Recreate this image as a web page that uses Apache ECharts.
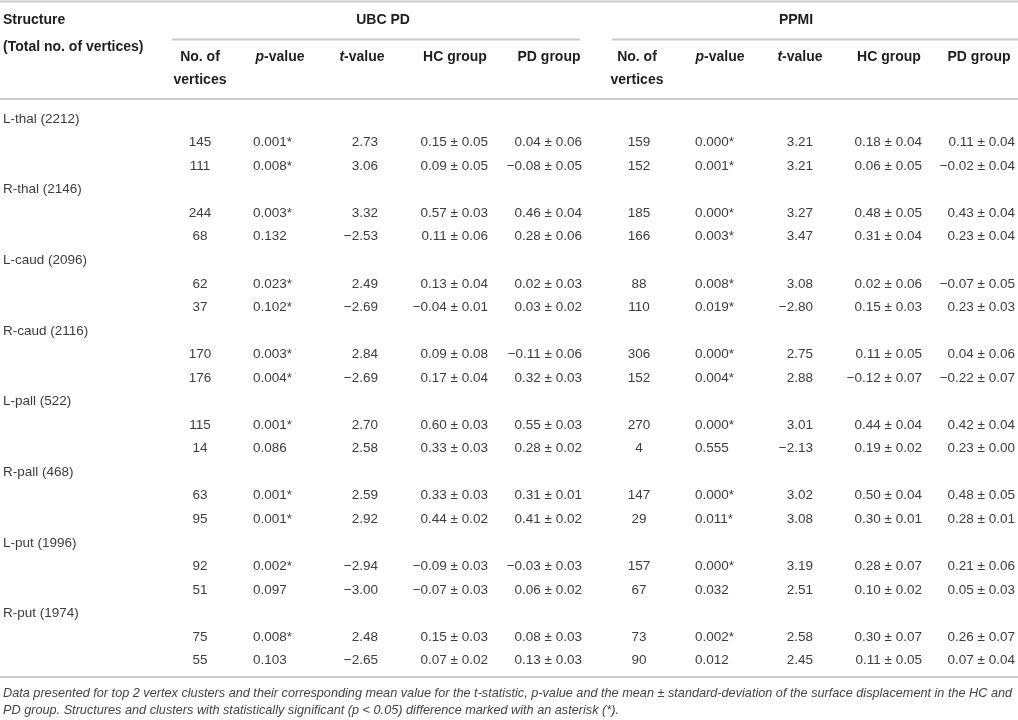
<!DOCTYPE html>
<html lang="en">
<head>
    <meta charset="UTF-8">
    <script src="https://cdn.jsdelivr.net/npm/echarts@6/dist/echarts.min.js"></script>
    <title>Vertex clusters table</title>
</head>
<body>
    <style>
        html, body, #main {
            margin: 0;
            width: 1018px;
            height: 720px;
            background: #fff;
        }
    </style>
    <div id="main"></div>
    <script>
        // table content
        var structures = ['L-thal (2212)', 'R-thal (2146)', 'L-caud (2096)', 'R-caud (2116)',
            'L-pall (522)', 'R-pall (468)', 'L-put (1996)', 'R-put (1974)'];

        var ubcVertices = [145, 111, 244, 68, 62, 37, 170, 176, 115, 14, 63, 95, 92, 51, 75, 55];
        var ubcP = [0.001, 0.008, 0.003, 0.132, 0.023, 0.102, 0.003, 0.004, 0.001, 0.086, 0.001, 0.001, 0.002, 0.097, 0.008, 0.103];
        var ubcMarked = [1, 1, 1, 0, 1, 1, 1, 1, 1, 0, 1, 1, 1, 0, 1, 0];
        var ubcT = [2.73, 3.06, 3.32, -2.53, 2.49, -2.69, 2.84, -2.69, 2.70, 2.58, 2.59, 2.92, -2.94, -3.00, 2.48, -2.65];
        var ubcHcMean = [0.15, 0.09, 0.57, 0.11, 0.13, -0.04, 0.09, 0.17, 0.60, 0.33, 0.33, 0.44, -0.09, -0.07, 0.15, 0.07];
        var ubcHcSd = [0.05, 0.05, 0.03, 0.06, 0.04, 0.01, 0.08, 0.04, 0.03, 0.03, 0.03, 0.02, 0.03, 0.03, 0.03, 0.02];
        var ubcPdMean = [0.04, -0.08, 0.46, 0.28, 0.02, 0.03, -0.11, 0.32, 0.55, 0.28, 0.31, 0.41, -0.03, 0.06, 0.08, 0.13];
        var ubcPdSd = [0.06, 0.05, 0.04, 0.06, 0.03, 0.02, 0.06, 0.03, 0.03, 0.02, 0.01, 0.02, 0.03, 0.02, 0.03, 0.03];

        var ppmiVertices = [159, 152, 185, 166, 88, 110, 306, 152, 270, 4, 147, 29, 157, 67, 73, 90];
        var ppmiP = [0.000, 0.001, 0.000, 0.003, 0.008, 0.019, 0.000, 0.004, 0.000, 0.555, 0.000, 0.011, 0.000, 0.032, 0.002, 0.012];
        var ppmiMarked = [1, 1, 1, 1, 1, 1, 1, 1, 1, 0, 1, 1, 1, 0, 1, 0];
        var ppmiT = [3.21, 3.21, 3.27, 3.47, 3.08, -2.80, 2.75, 2.88, 3.01, -2.13, 3.02, 3.08, 3.19, 2.51, 2.58, 2.45];
        var ppmiHcMean = [0.18, 0.06, 0.48, 0.31, 0.02, 0.15, 0.11, -0.12, 0.44, 0.19, 0.50, 0.30, 0.28, 0.10, 0.30, 0.11];
        var ppmiHcSd = [0.04, 0.05, 0.05, 0.04, 0.06, 0.03, 0.05, 0.07, 0.04, 0.02, 0.04, 0.01, 0.07, 0.02, 0.07, 0.05];
        var ppmiPdMean = [0.11, -0.02, 0.43, 0.23, -0.07, 0.23, 0.04, -0.22, 0.42, 0.23, 0.48, 0.28, 0.21, 0.05, 0.26, 0.07];
        var ppmiPdSd = [0.04, 0.04, 0.04, 0.04, 0.05, 0.03, 0.06, 0.07, 0.04, 0.00, 0.05, 0.01, 0.06, 0.03, 0.07, 0.04];

        var caption = [
            'Data presented for top 2 vertex clusters and their corresponding mean value for the t-statistic, p-value and the mean \u00b1 standard-deviation of the surface displacement in the HC and',
            'PD group. Structures and clusters with statistically significant (p < 0.05) difference marked with an asterisk (*).'
        ];

        // layout: column anchors on the x axis (axis runs in page pixels)
        var colX = {
            name: 3,
            ubc: [200, 253, 378, 488, 582],
            ppmi: [639, 695, 813, 922, 1015]
        };
        var colAlign = ['center', 'left', 'right', 'right', 'right'];

        var FONT = '"Liberation Sans", Arial, sans-serif';
        var TEXT = '#3d3d3d';
        var HEAD = '#1e1e1e';
        var RULE = '#cbcbcb';

        function num(v, d) {
            var s = Math.abs(v).toFixed(d);
            return (v < 0 ? '\u2212' : '') + s;
        }
        function pm(m, s) {
            return num(m, 2) + ' \u00b1 ' + num(s, 2);
        }

        // build cells
        var rows = [];
        var cells = [];
        structures.forEach(function (name, k) {
            var r = rows.length;
            rows.push(name);
            cells.push({ value: [colX.name, r], text: name, align: 'left' });
            for (var j = 0; j < 2; j++) {
                var i = k * 2 + j;
                var rr = rows.length;
                rows.push(name + ' ' + (j + 1));
                var ubc = [String(ubcVertices[i]), ubcP[i].toFixed(3) + (ubcMarked[i] ? '*' : ''),
                    num(ubcT[i], 2), pm(ubcHcMean[i], ubcHcSd[i]), pm(ubcPdMean[i], ubcPdSd[i])];
                var ppmi = [String(ppmiVertices[i]), ppmiP[i].toFixed(3) + (ppmiMarked[i] ? '*' : ''),
                    num(ppmiT[i], 2), pm(ppmiHcMean[i], ppmiHcSd[i]), pm(ppmiPdMean[i], ppmiPdSd[i])];
                for (var c = 0; c < 5; c++) {
                    cells.push({ value: [colX.ubc[c], rr], text: ubc[c], align: colAlign[c] });
                    cells.push({ value: [colX.ppmi[c], rr], text: ppmi[c], align: colAlign[c] });
                }
            }
        });

        // header texts
        function head(x, y, text, align) {
            return {
                type: 'text', x: x, y: y,
                style: {
                    text: text, fill: HEAD, align: align || 'center', verticalAlign: 'middle',
                    font: 'bold 14px ' + FONT,
                    rich: {
                        i: { fontStyle: 'italic', fontWeight: 'bold', fontSize: 14, fontFamily: FONT, fill: HEAD }
                    }
                }
            };
        }
        function rule(x1, x2, y) {
            return {
                type: 'line',
                shape: { x1: x1, y1: y, x2: x2, y2: y },
                style: { stroke: RULE, lineWidth: 2 }
            };
        }

        var headerX = {
            ubc: [200, 280, 362, 455, 549],
            ppmi: [637, 720, 800, 889, 979]
        };
        var graphics = [
            rule(0, 1018, 1.5),
            rule(172, 580, 39.5),
            rule(612, 1018, 39.5),
            rule(0, 1018, 99),
            rule(0, 1018, 677),
            head(3, 20, 'Structure', 'left'),
            head(3, 47, '(Total no. of vertices)', 'left'),
            head(383, 20, 'UBC PD'),
            head(796, 20, 'PPMI')
        ];
        ['ubc', 'ppmi'].forEach(function (g) {
            var hx = headerX[g];
            graphics.push(head(hx[0], 57, 'No. of'));
            graphics.push(head(hx[0], 80, 'vertices'));
            graphics.push(head(hx[1], 57, '{i|p}-value'));
            graphics.push(head(hx[2], 57, '{i|t}-value'));
            graphics.push(head(hx[3], 57, 'HC group'));
            graphics.push(head(hx[4], 57, 'PD group'));
        });
        caption.forEach(function (line, n) {
            graphics.push({
                type: 'text', x: 3, y: 693 + n * 17,
                style: {
                    text: line, fill: '#444', align: 'left', verticalAlign: 'middle',
                    font: 'italic 12.7px ' + FONT
                }
            });
        });

        var chart = echarts.init(document.getElementById('main'), null, { renderer: 'canvas' });
        chart.setOption({
            animation: false,
            backgroundColor: '#fff',
            grid: { left: 0, right: 0, top: 107.2, bottom: 47.6 },
            xAxis: { type: 'value', min: 0, max: 1018, show: false },
            yAxis: { type: 'category', data: rows, inverse: true, show: false },
            graphic: graphics,
            series: [{
                type: 'custom',
                coordinateSystem: 'cartesian2d',
                encode: { x: 0, y: 1 },
                data: cells.map(function (c) { return c.value; }),
                renderItem: function (params, api) {
                    var cell = cells[params.dataIndex];
                    var p = api.coord([api.value(0), api.value(1)]);
                    return {
                        type: 'text',
                        x: p[0], y: p[1],
                        style: {
                            text: cell.text, fill: TEXT,
                            align: cell.align, verticalAlign: 'middle',
                            font: '13.5px ' + FONT
                        }
                    };
                }
            }]
        });
    </script>
</body>
</html>
